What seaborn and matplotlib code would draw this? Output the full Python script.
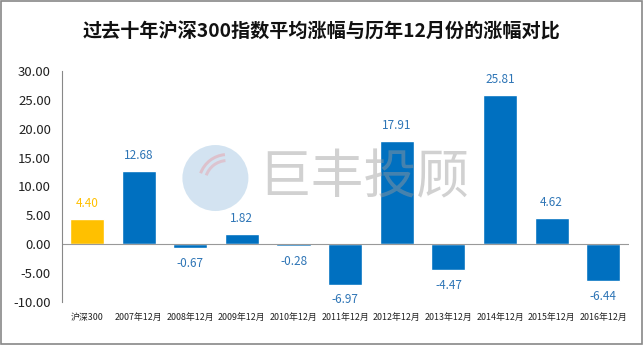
import matplotlib
matplotlib.use("Agg")
import matplotlib.pyplot as plt
import seaborn as sns
import pandas as pd
from matplotlib.patches import Circle, Wedge

categories = ["沪深300", "2007年12月", "2008年12月", "2009年12月", "2010年12月", "2011年12月",
              "2012年12月", "2013年12月", "2014年12月", "2015年12月", "2016年12月"]
values = [4.40, 12.68, -0.67, 1.82, -0.28, -6.97, 17.91, -4.47, 25.81, 4.62, -6.44]
yticks = [-10, -5, 0, 5, 10, 15, 20, 25, 30]

sns.set_theme(style="white")
plt.rcParams['font.family'] = ['Noto Sans CJK SC', 'DejaVu Sans']

gold = "#FFC000"
blue = "#0070C0"
colors = [gold] + [blue] * (len(categories) - 1)
label_colors = ["#FFC000"] + ["#2E75B6"] * (len(categories) - 1)

df = pd.DataFrame({"cat": categories, "val": values})

fig = plt.figure(figsize=(6.43, 3.45), dpi=100)
ax = fig.add_axes([0.0964, 0.1246, 0.882, 0.670])
sns.barplot(data=df, x="cat", y="val", hue="cat", palette=colors, legend=False,
            width=0.66, ax=ax, saturation=1)

ax.set_ylim(-10, 30)
ax.set_xlim(-0.485, len(categories) - 0.5)
ax.set_yticks(yticks)
ax.set_yticklabels([f"{v:.2f}" for v in yticks], fontsize=9.5, color="#222222")
ax.set_xticks(range(len(categories)))
ax.set_xticklabels(categories, fontsize=6.4, color="#222222")
ax.tick_params(axis="y", length=0, pad=8)
ax.tick_params(axis="x", length=0, pad=8)
ax.set_xlabel("")
ax.set_ylabel("")
for s in ["top", "right", "bottom"]:
    ax.spines[s].set_visible(False)
ax.spines["left"].set_color("#888888")
ax.spines["left"].set_linewidth(0.8)
ax.axhline(0, color="#999999", linewidth=0.8, zorder=1)

for i, v in enumerate(values):
    if v >= 0:
        ax.text(i, v + 1.5, f"{v:.2f}", ha="center", va="bottom", fontsize=8.5,
                color=label_colors[i])
    else:
        ax.text(i, v - 1.5, f"{v:.2f}", ha="center", va="top", fontsize=8.5,
                color=label_colors[i])

# watermark
fig.text(0.565, 0.485, "巨丰投顾", fontsize=38, color="#9a9a9a", alpha=0.45,
         ha="center", va="center", zorder=10)
logo = Circle((0.335 * 6.43, 0.484 * 3.45), 0.33, transform=fig.dpi_scale_trans,
              facecolor="#9ec3e0", alpha=0.45, edgecolor="none", zorder=9)
fig.patches.append(logo)
for r, a in [(0.30, 0.5), (0.24, 0.45)]:
    w = Wedge((0.335 * 6.43 + 0.12, 0.484 * 3.45 - 0.05), r, 95, 160, width=0.03,
              transform=fig.dpi_scale_trans, facecolor="#e8a0a8", alpha=a,
              edgecolor="none", zorder=9)
    fig.patches.append(w)

fig.text(0.5, 0.907, "过去十年沪深300指数平均涨幅与历年12月份的涨幅对比", fontsize=13.8,
         fontweight="bold", ha="center", va="center", color="#111111")

border = plt.Rectangle((0.001, 0.002), 0.997, 0.995, transform=fig.transFigure,
                       fill=False, edgecolor="#888888", linewidth=1.2)
fig.patches.append(border)

fig.savefig("out.png", dpi=100)
